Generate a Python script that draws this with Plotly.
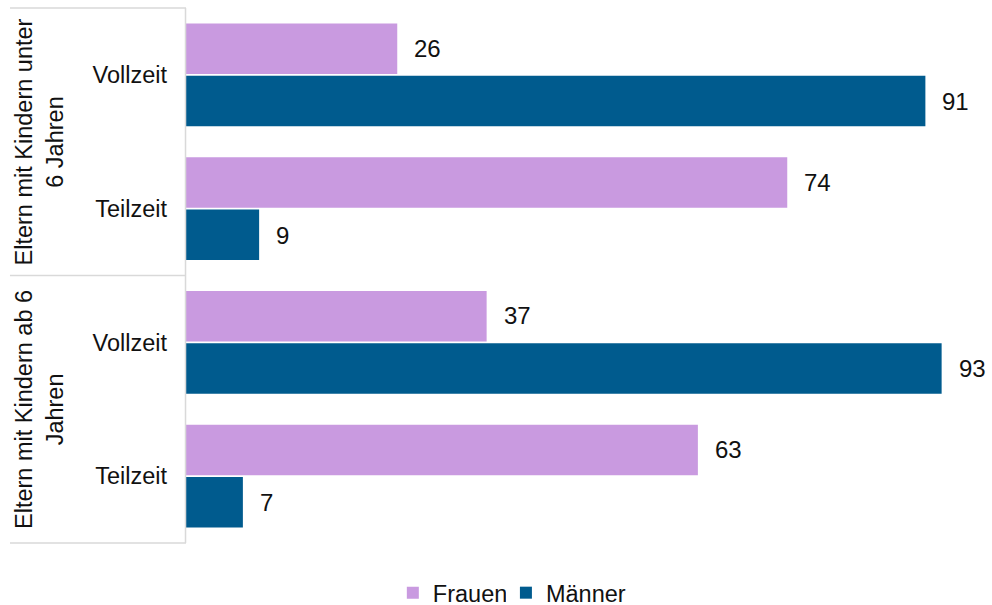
import plotly.graph_objects as go

groups = ["Eltern mit Kindern unter<br>6 Jahren", "Eltern mit Kindern ab 6<br>Jahren"]
categories = ["Vollzeit", "Teilzeit", "Vollzeit", "Teilzeit"]
frauen = [26, 74, 37, 63]
maenner = [91, 9, 93, 7]
series_names = ["Frauen", "Männer"]
colors = ["#C99AE0", "#005B8E"]

FONT = "Liberation Sans, Arial, sans-serif"
FS = 23.5
pos = list(range(len(categories)))

fig = go.Figure()
for i, (name, vals, col) in enumerate(zip(series_names, [frauen, maenner], colors)):
    fig.add_trace(go.Bar(
        y=pos, x=vals, name=name, orientation="h",
        marker=dict(color=col, line=dict(width=0)),
        hoverinfo="x+name",
        legend="legend" if i == 0 else "legend2",
    ))

# value labels next to bars
for k, vals in enumerate([frauen, maenner]):
    for p, v in zip(pos, vals):
        fig.add_annotation(
            x=v, y=p, xref="x", yref="y", text=str(v), showarrow=False,
            xanchor="left", yanchor="middle", xshift=15,
            yshift=(26.5 if k == 0 else -26.5),
            font=dict(family=FONT, size=24, color="#111111"),
        )

# group labels (rotated)
for g, label in enumerate(groups):
    ymid = 1 - (g + 0.5) / len(groups)
    fig.add_annotation(
        x=-0.1815, y=ymid, xref="paper", yref="paper", text=label,
        showarrow=False, textangle=-90, xanchor="center", yanchor="middle",
        font=dict(family=FONT, size=FS, color="#111111"), align="center",
    )

# category box lines
line_col = "#D9D9D9"
for g in range(len(groups) + 1):
    yy = 1 - g / len(groups)
    fig.add_shape(type="line", xref="paper", yref="paper",
                  x0=-0.2184, x1=0, y0=yy, y1=yy,
                  line=dict(color=line_col, width=1.5))
fig.add_shape(type="line", xref="paper", yref="paper",
              x0=-0.0006, x1=-0.0006, y0=0, y1=1,
              line=dict(color=line_col, width=1.5))

legend_common = dict(
    orientation="h", xref="container", yref="container",
    xanchor="left", y=0.02, yanchor="middle",
    font=dict(family=FONT, size=FS, color="#111111"),
    itemclick=False, itemdoubleclick=False,
)

fig.update_layout(
    width=992, height=605,
    margin=dict(l=186, r=0, t=8, b=62),
    paper_bgcolor="white", plot_bgcolor="white",
    barmode="group", bargap=0.22, bargroupgap=0.03,
    font=dict(family=FONT, size=FS, color="#111111"),
    xaxis=dict(range=[0, 99.2], visible=False, showgrid=False, zeroline=False),
    yaxis=dict(
        tickmode="array", tickvals=pos, ticktext=categories,
        range=[len(categories) - 0.5, -0.5],
        showgrid=False, zeroline=False, showline=False,
        ticks="", ticklabelstandoff=18,
        tickfont=dict(family=FONT, size=FS, color="#111111"),
    ),
    legend=dict(x=0.396, **legend_common),
    legend2=dict(x=0.51, **legend_common),
    showlegend=True,
)

fig.write_html(
    "out.html",
    config={"displayModeBar": False},
    post_script="document.body.style.margin='0';document.body.style.padding='0';",
)
